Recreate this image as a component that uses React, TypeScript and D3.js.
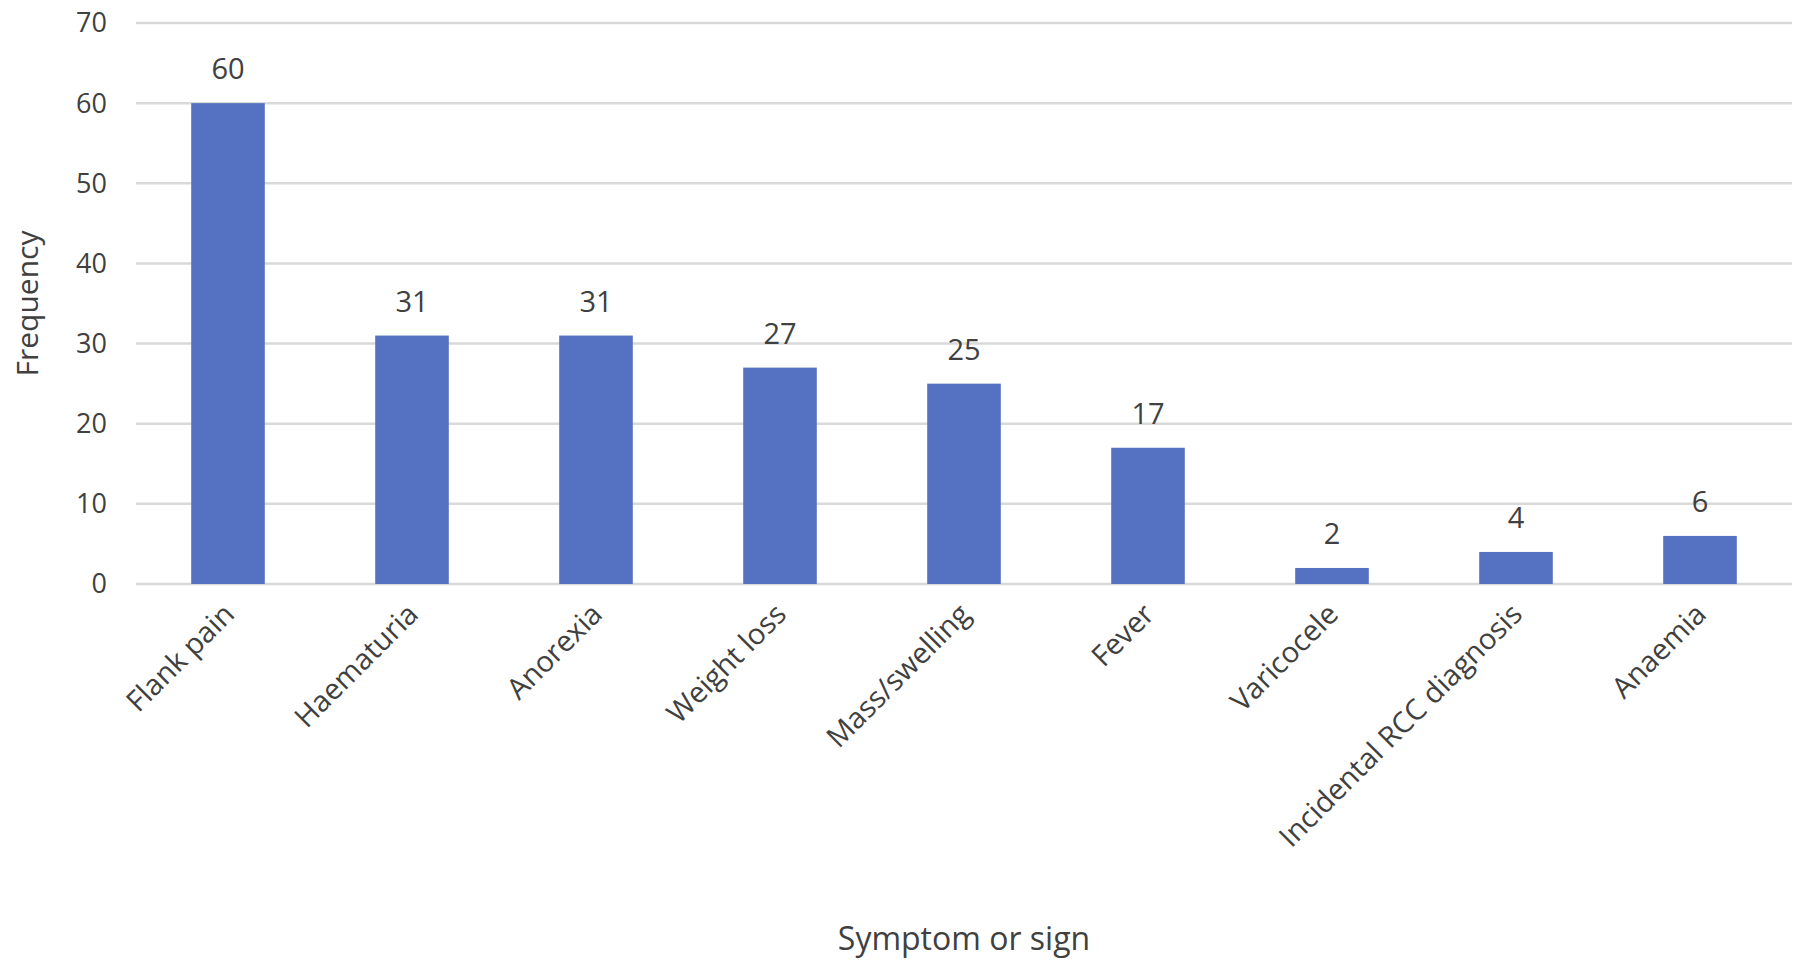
import React from "react";
import * as d3 from "d3";

const categories = ["Flank pain", "Haematuria", "Anorexia", "Weight loss", "Mass/swelling", "Fever", "Varicocele", "Incidental RCC diagnosis", "Anaemia"];
const values = [60, 31, 31, 27, 25, 17, 2, 4, 6];
const yTicks = [0, 10, 20, 30, 40, 50, 60, 70];

export default function App() {
  const width = 1803;
  const height = 969;
  const left = 136;
  const right = 1792;
  const y = d3.scaleLinear().domain([0, 70]).range([584, 23]);
  const x = d3.scaleBand().domain(categories).range([left, right]).paddingInner(0.6).paddingOuter(0.3);
  const font = "'Open Sans', 'Liberation Sans', sans-serif";
  const text = "#404040";

  return (
    <svg width={width} height={height} style={{ position: "absolute", top: 0, left: 0, background: "#fff" }} fontFamily={font}>
      {yTicks.map((t) => (
        <g key={t}>
          <line x1={left} x2={right} y1={y(t)} y2={y(t)} stroke="#d9d9d9" strokeWidth={2.5} />
          <text x={107} y={y(t)} dy="0.35em" textAnchor="end" fontSize={27} fill={text}>{t}</text>
        </g>
      ))}
      {categories.map((c, i) => {
        const cx = x(c)! + x.bandwidth() / 2;
        return (
          <g key={c}>
            <rect x={x(c)} y={y(values[i])} width={x.bandwidth()} height={y(0) - y(values[i])} fill="#5571c1" />
            <text x={cx} y={y(values[i]) - 24} textAnchor="middle" fontSize={29} fill={text}>{values[i]}</text>
            <text transform={`translate(${cx + 8},${y(0) + 32}) rotate(-45)`} textAnchor="end" fontSize={29} fill={text}>{c}</text>
          </g>
        );
      })}
      <text transform={`translate(38,${y(35)}) rotate(-90)`} textAnchor="middle" fontSize={30} fill={text}>Frequency</text>
      <text x={(left + right) / 2} y={950} textAnchor="middle" fontSize={32} fill={text}>Symptom or sign</text>
    </svg>
  );
}
